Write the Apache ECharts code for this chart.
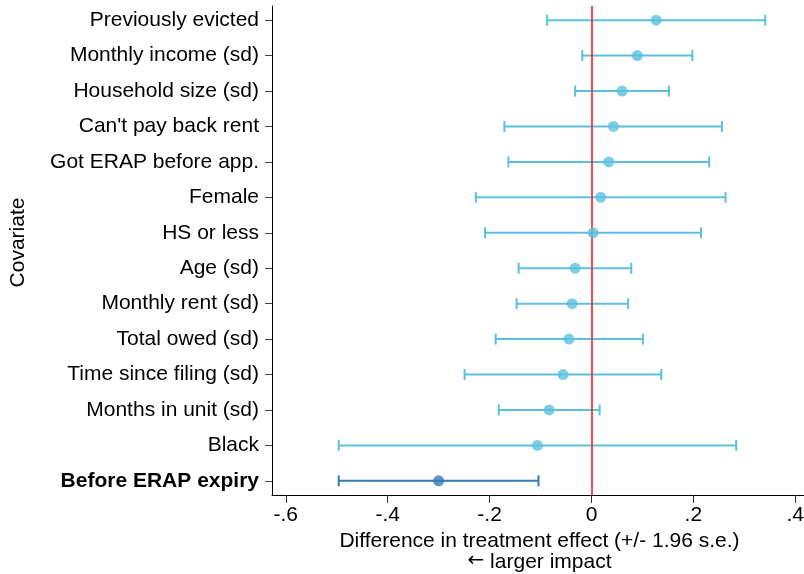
<!DOCTYPE html>
<html>
<head>
<meta charset="utf-8">
<script src="https://cdn.jsdelivr.net/npm/echarts@6/dist/echarts.min.js"></script>
<style>
  html, body { margin: 0; padding: 0; background: #fff; }
  #chart { width: 804px; height: 574px; }
</style>
</head>
<body>
<div id="chart"></div>
<script>
// Covariates, listed top to bottom
const covariates = [
  "Previously evicted",
  "Monthly income (sd)",
  "Household size (sd)",
  "Can't pay back rent",
  "Got ERAP before app.",
  "Female",
  "HS or less",
  "Age (sd)",
  "Monthly rent (sd)",
  "Total owed (sd)",
  "Time since filing (sd)",
  "Months in unit (sd)",
  "Black",
  "Before ERAP expiry"
];
// Point estimates and 95% bounds (+/- 1.96 s.e.)
const estimates = [0.127, 0.090, 0.060, 0.043, 0.034, 0.018, 0.003, -0.032, -0.038, -0.044, -0.056, -0.083, -0.106, -0.300];
const lowerBounds = [-0.087, -0.018, -0.032, -0.171, -0.163, -0.227, -0.209, -0.143, -0.147, -0.188, -0.249, -0.182, -0.496, -0.496];
const upperBounds = [0.341, 0.198, 0.152, 0.256, 0.231, 0.263, 0.215, 0.078, 0.072, 0.101, 0.137, 0.016, 0.284, -0.104];
const highlighted = "Before ERAP expiry";

const xTicks = [-0.6, -0.4, -0.2, 0, 0.2, 0.4];

const lightBlue = '#5bc0de';
const darkBlue = '#337ab7';
const FONT = '"Liberation Sans", Arial, Helvetica, sans-serif';

const n = covariates.length;
// row position: first covariate at top
const rowOf = i => n - 1 - i;
const colorOf = name => (name === highlighted ? darkBlue : lightBlue);

const barData = covariates.map((name, i) => ({
  value: [rowOf(i), lowerBounds[i], upperBounds[i]],
  itemStyle: { color: colorOf(name) }
}));
const pointData = covariates.map((name, i) => ({
  value: [estimates[i], rowOf(i)],
  itemStyle: { color: colorOf(name) }
}));
const rowValues = covariates.map((_, i) => rowOf(i));

function fmtTick(v) {
  if (Math.abs(v) < 1e-9) return '0';
  const s = Math.abs(v).toFixed(1).replace(/^0/, '');
  return (v < 0 ? '-' : '') + s;
}

const chart = echarts.init(document.getElementById('chart'), null, { renderer: 'canvas' });

chart.setOption({
  backgroundColor: '#fff',
  animation: false,
  grid: { left: 272, right: -3, top: 6, bottom: 79, containLabel: false, outerBoundsMode: 'none' },
  xAxis: {
    type: 'value',
    min: -0.627,
    max: 0.423,
    name: '{t|Difference in treatment effect (+/- 1.96 s.e.)}\n{arr|\u2190}{t| larger impact}',
    nameLocation: 'middle',
    nameGap: 33,
    nameTextStyle: {
      fontFamily: FONT, fontSize: 21, color: '#000', lineHeight: 21,
      rich: {
        t: { fontFamily: FONT, fontSize: 21, color: '#000', lineHeight: 21 },
        arr: { fontFamily: '"DejaVu Sans", sans-serif', fontSize: 20, color: '#000', lineHeight: 21, padding: [0, 0, 3, 0] }
      }
    },
    axisLine: { show: true, onZero: false, lineStyle: { color: '#000', width: 1 } },
    axisTick: { show: true, length: 8, customValues: xTicks, lineStyle: { color: '#333', width: 1 } },
    axisLabel: {
      customValues: xTicks,
      margin: 10,
      fontFamily: FONT,
      fontSize: 21,
      color: '#000',
      formatter: fmtTick
    },
    splitLine: { show: false }
  },
  yAxis: {
    type: 'value',
    min: -0.4,
    max: 13.4,
    name: 'Covariate',
    nameLocation: 'middle',
    nameGap: 243,
    nameRotate: 90,
    nameTextStyle: { fontFamily: FONT, fontSize: 21, color: '#000', padding: [0, 0, 0, 16] },
    axisLine: { show: true, onZero: false, lineStyle: { color: '#000', width: 1 } },
    axisTick: { show: true, length: 7, customValues: rowValues, lineStyle: { color: '#444', width: 1 } },
    axisLabel: {
      customValues: rowValues,
      margin: 13,
      fontFamily: FONT,
      fontSize: 21,
      color: '#000',
      formatter: v => {
        const name = covariates[n - 1 - Math.round(v)];
        return name === highlighted ? '{b|' + name + '}' : name;
      },
      rich: { b: { fontFamily: FONT, fontSize: 21, fontWeight: 'bold', color: '#000' } }
    },
    splitLine: { show: false }
  },
  series: [
    {
      type: 'custom',
      z: 2,
      data: barData,
      encode: { x: [1, 2], y: 0 },
      renderItem: (params, api) => {
        const row = api.value(0);
        const lo = api.coord([api.value(1), row]);
        const hi = api.coord([api.value(2), row]);
        const cap = 5.5;
        const style = { stroke: api.visual('color'), lineWidth: 2 };
        return {
          type: 'group',
          children: [
            { type: 'line', shape: { x1: lo[0], y1: lo[1], x2: hi[0], y2: hi[1] }, style },
            { type: 'line', shape: { x1: lo[0], y1: lo[1] - cap, x2: lo[0], y2: lo[1] + cap }, style },
            { type: 'line', shape: { x1: hi[0], y1: hi[1] - cap, x2: hi[0], y2: hi[1] + cap }, style }
          ]
        };
      },
      markLine: {
        silent: true,
        symbol: 'none',
        z: 3,
        label: { show: false },
        lineStyle: { color: '#ff1a1a', width: 1.6, type: 'solid' },
        data: [{ xAxis: 0 }]
      }
    },
    {
      type: 'scatter',
      z: 4,
      symbol: 'circle',
      symbolSize: 11,
      data: pointData
    }
  ]
});
</script>
</body>
</html>
